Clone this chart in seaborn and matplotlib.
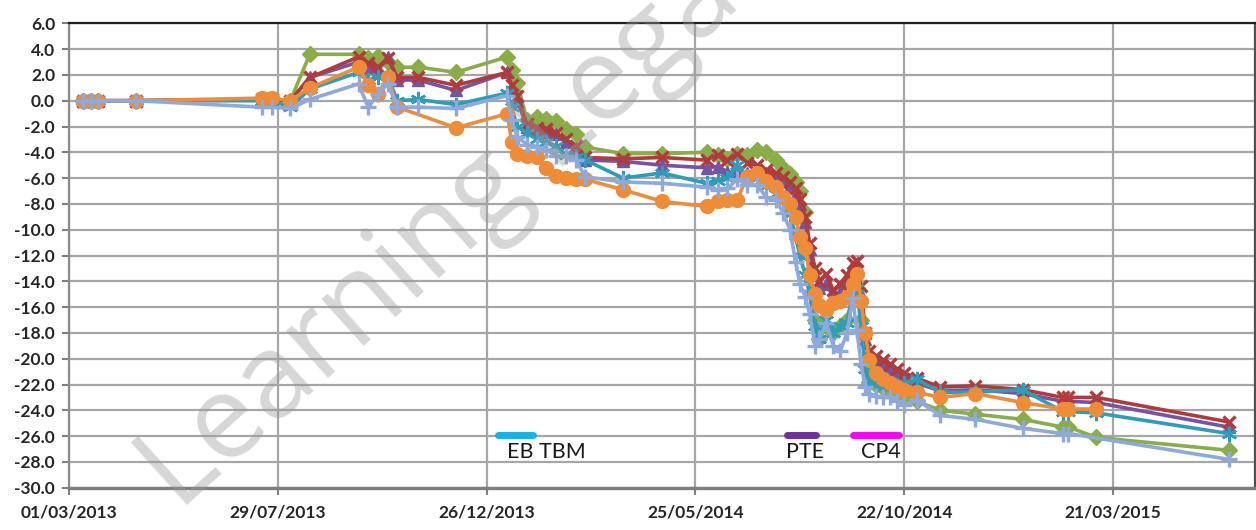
import numpy as np
import pandas as pd
import matplotlib
matplotlib.use("Agg")
import matplotlib.pyplot as plt
import matplotlib.dates as mdates
import seaborn as sns

# -------------------------
# Data
# -------------------------
dates = pd.to_datetime([
    "2013-03-11", "2013-03-17", "2013-03-22", "2013-04-18", "2013-07-18",
    "2013-07-25", "2013-08-07", "2013-08-21", "2013-09-25", "2013-10-02",
    "2013-10-09", "2013-10-16", "2013-10-23", "2013-11-07", "2013-12-04",
    "2014-01-10", "2014-01-13", "2014-01-17", "2014-01-24", "2014-01-31",
    "2014-02-07", "2014-02-14", "2014-02-21", "2014-02-28", "2014-03-07",
    "2014-04-03", "2014-05-01", "2014-06-02", "2014-06-10", "2014-06-17",
    "2014-06-24", "2014-07-01", "2014-07-08", "2014-07-15", "2014-07-22",
    "2014-07-27", "2014-08-01", "2014-08-05", "2014-08-08", "2014-08-12",
    "2014-08-15", "2014-08-19", "2014-08-22", "2014-08-27", "2014-09-01",
    "2014-09-06", "2014-09-11", "2014-09-15", "2014-09-18", "2014-09-21",
    "2014-09-24", "2014-09-27", "2014-10-02", "2014-10-07", "2014-10-12",
    "2014-10-17", "2014-10-22", "2014-10-31", "2014-11-17", "2014-12-12",
    "2015-01-15", "2015-02-13", "2015-02-17", "2015-03-09", "2015-06-12",
])

nan = np.nan

green = [
    0.0, 0.0, 0.0, 0.0, 0.1, 0.1, 0.0, 3.6, 3.6, 3.3,
    3.5, 3.0, 2.6, 2.6, 2.2, 3.4, 2.4, 1.4, -1.5, -1.3,
    -1.4, -1.6, -2.2, -2.6, -3.6, -4.1, -4.1, -4.0, -4.2, -4.5,
    -4.1, -4.2, -3.8, -4.0, -4.6, -5.2, -5.7, -6.3, -7.0, -8.6,
    -13.5, -17.0, -18.5, -17.5, -18.0, -17.5, -17.0, -15.0, -14.5, -17.0,
    -20.5, -21.8, -22.0, -22.3, -22.5, -22.7, -23.0, -23.3, -24.0, -24.3,
    -24.7, -25.3, -25.3, -26.1, -27.1,
]

red = [
    0.0, 0.0, 0.0, 0.0, 0.1, 0.1, 0.0, 1.8, 3.4, 2.9,
    2.6, 3.3, 1.8, 1.8, 1.2, 2.2, 1.2, 0.4, -1.8, -2.1,
    -2.2, -2.5, -3.0, -3.5, -4.4, -4.5, -4.4, -4.6, -4.2, -4.6,
    -4.1, -4.8, -5.0, -5.4, -5.6, -5.9, -6.3, -6.8, -7.6, -9.0,
    -11.0, -13.0, -14.0, -13.4, -14.7, -14.2, -13.5, -12.6, -12.4, -14.4,
    -18.0, -19.4, -19.8, -20.1, -20.4, -20.8, -21.1, -21.5, -22.2, -22.1,
    -22.4, -23.0, -23.0, -23.0, -24.9,
]

purple = [
    0.0, 0.0, 0.0, 0.0, 0.1, 0.1, 0.0, 1.8, 3.0, 2.6,
    2.3, 3.4, 1.6, 1.6, 0.8, 2.2, 1.0, 0.0, -2.0, -2.3,
    -2.4, -2.6, -3.2, -3.7, -4.6, -4.7, -5.0, -5.2, -5.1, -5.5,
    -5.6, -5.6, -5.4, -5.6, -5.9, -6.2, -6.6, -7.2, -8.0, -9.4,
    -11.5, -13.5, -14.5, -14.2, -15.2, -14.8, -14.0, -13.0, -12.8, -15.0,
    -18.5, -19.8, -20.2, -20.5, -20.8, -21.2, -21.5, -21.9, -22.5, -22.4,
    -22.7, -23.3, -23.3, -23.4, -25.3,
]

teal = [
    0.0, 0.0, 0.0, 0.0, 0.0, 0.0, -0.5, 0.9, 2.2, 1.6,
    1.8, 1.9, 0.0, 0.1, -0.3, 0.6, -0.5, -2.0, -2.5, -3.0,
    -3.2, -3.5, -4.2, -4.4, -4.6, -6.0, -5.6, -6.4, -6.2, -6.0,
    -5.0, -5.8, -6.0, -6.6, -7.2, -7.8, -8.8, -10.5, -12.0, -13.5,
    -15.0, -17.5, -18.5, -17.0, -18.0, -17.5, -17.2, -15.0, -14.5, -17.5,
    -20.8, -21.8, -22.0, -22.2, -22.2, -22.0, -21.9, -21.6, -22.6, -22.6,
    -22.4, -24.1, -24.1, -24.2, -25.8,
]

orange = [
    0.0, 0.0, 0.0, 0.0, 0.2, 0.2, 0.0, 1.0, 2.6, 1.2,
    0.5, 1.8, -0.5, nan, -2.1, -1.0, -3.2, -4.1, -4.3, -4.4,
    -5.2, -5.8, -6.0, -6.1, -6.1, -6.9, -7.8, -8.2, -7.8, -7.7,
    -7.7, -5.9, -5.6, -6.2, -6.7, -7.5, -8.0, -9.0, -10.6, -11.4,
    -13.5, -15.0, -15.8, -16.2, -15.7, -15.5, -15.2, -14.2, -13.4, -15.5,
    -18.0, -20.1, -21.1, -21.6, -21.9, -22.2, -22.4, -22.6, -23.0, -22.7,
    -23.4, -23.9, -23.9, -23.9, nan,
]

lightblue = [
    0.0, 0.0, 0.0, 0.0, -0.5, -0.5, -0.6, 0.1, 1.3, -0.5,
    0.5, 1.3, -0.5, -0.5, -0.6, 0.4, -1.5, -2.8, -3.4, -3.6,
    -3.8, -4.3, -4.3, -4.6, -5.9, -6.3, -6.4, -6.7, -6.9, -6.8,
    -6.1, -6.5, -6.5, -7.5, -7.7, -8.7, -10.0, -12.5, -14.2, -15.2,
    -16.5, -19.0, -18.5, -17.2, -19.0, -19.4, -18.0, -15.3, -17.8, -20.4,
    -22.2, -22.7, -22.9, -23.0, -23.0, -23.3, -23.6, -23.2, -24.4, -24.7,
    -25.4, -25.8, -25.8, nan, -27.8,
]

# annotation bars: label, start, end, colour
event_labels = ["EB TBM", "PTE", "CP4"]
event_start = pd.to_datetime(["2014-01-03", "2014-07-30", "2014-09-15"])
event_end = pd.to_datetime(["2014-01-28", "2014-08-20", "2014-10-18"])
event_text_at = pd.to_datetime(["2014-01-10", "2014-07-29", "2014-09-21"])
event_colors = ["#11B4EA", "#7030A0", "#FF00FF"]
event_level = -25.9

tick_dates = pd.date_range("2013-03-01", periods=6, freq="150D")

sns.set_style("white")
plt.rcParams["font.family"] = ["Lato", "DejaVu Sans"]

# -------------------------
# Plot
# -------------------------
fig = plt.figure(figsize=(12.56, 5.3), dpi=100)
ax = fig.add_axes([0.0549, 0.0798, 0.9443, 0.8762])

series = [
    (green, "#8AAE46", "D", 8, 1.0),
    (purple, "#7554A3", "^", 8, 1.0),
    (red, "#B23A3A", "x", 9, 2.4),
    (teal, "#2C9EBC", (6, 2, 0), 11, 1.7),
    (orange, "#F08C36", "o", 10, 1.0),
    (lightblue, "#8EA9DB", "+", 11, 2.4),
]

for vals, color, marker, ms, mew in series:
    df = pd.DataFrame({"date": dates, "value": vals}).dropna()
    sns.lineplot(
        data=df, x="date", y="value", ax=ax,
        color=color, linewidth=2.6,
        marker=marker, markersize=ms,
        markeredgewidth=mew, markeredgecolor=color,
        legend=False, zorder=3,
    )

for label, s, e, t, c in zip(event_labels, event_start, event_end,
                              event_text_at, event_colors):
    ax.plot([s, e], [event_level, event_level], color=c, linewidth=5,
            solid_capstyle="round", zorder=4)
    ax.text(t, event_level - 0.55, label, fontsize=15.5, color="#1a1a1a",
            ha="left", va="top", zorder=4, family=["Lato", "DejaVu Sans"])

ax.set_xlim(pd.Timestamp("2013-03-01"), pd.Timestamp("2015-07-01"))
ax.set_ylim(-30, 6)
ax.set_yticks(np.arange(-30, 6.1, 2))
ax.yaxis.set_major_formatter(matplotlib.ticker.FormatStrFormatter("%.1f"))
ax.set_xticks(tick_dates)
ax.xaxis.set_major_formatter(mdates.DateFormatter("%d/%m/%Y"))
ax.set_xlabel("")
ax.set_ylabel("")

ax.grid(True, color="#A6A6A6", linewidth=1.6, zorder=0)
ax.set_axisbelow(True)
for lab in ax.get_xticklabels() + ax.get_yticklabels():
    lab.set_fontweight("bold")
    lab.set_fontsize(12.5)
    lab.set_color("#262626")
ax.tick_params(axis="x", length=5, width=1.5, color="#808080", pad=7, bottom=True)
ax.tick_params(axis="y", length=5, width=1.5, color="#808080", pad=5, left=True)

ax.spines["top"].set_color("#202020")
ax.spines["top"].set_linewidth(1.6)
ax.spines["right"].set_color("#505050")
ax.spines["right"].set_linewidth(1.6)
ax.spines["left"].set_color("#8C8C8C")
ax.spines["left"].set_linewidth(1.6)
ax.spines["bottom"].set_color("#7F7F7F")
ax.spines["bottom"].set_linewidth(2.4)

# watermark
fig.text(0.385, 0.628, "Learning Legacy", rotation=42, fontsize=84,
         color="#9A9A9A", alpha=0.4, ha="center", va="center",
         family=["Open Sans", "DejaVu Sans"])

fig.savefig("out.png", dpi=100)
plt.close(fig)
